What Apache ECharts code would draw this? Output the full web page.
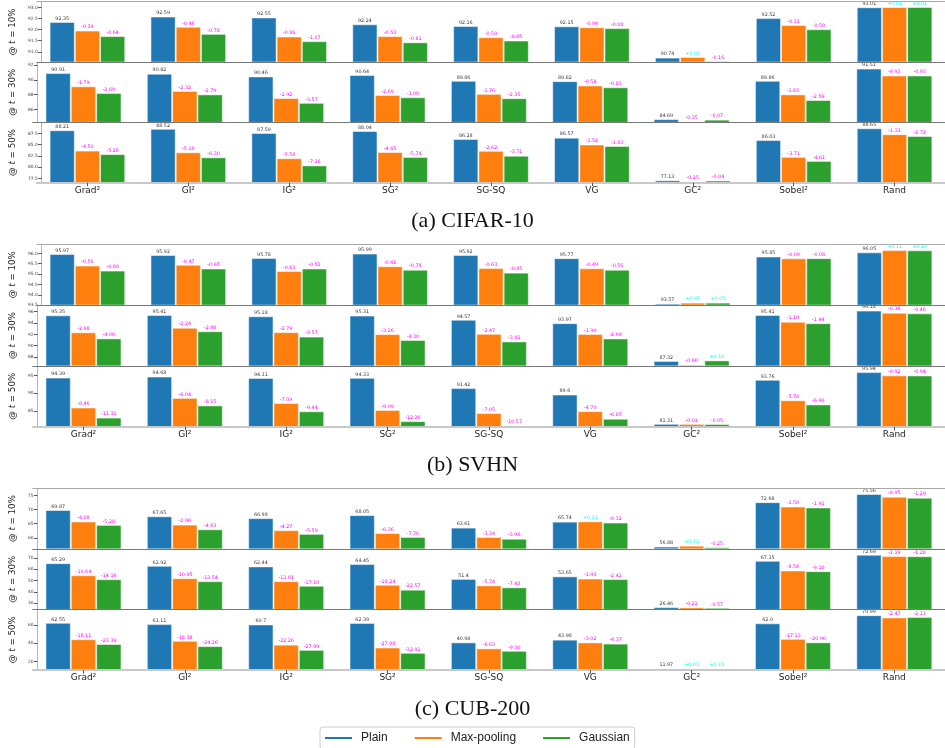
<!DOCTYPE html>
<html>
<head>
<meta charset="utf-8">
<script src="https://cdn.jsdelivr.net/npm/echarts@6/dist/echarts.min.js"></script>
<style>
  html, body { margin: 0; padding: 0; background: #fff; }
  #chart { width: 945px; height: 748px; }
</style>
</head>
<body>
<div id="chart"></div>
<script>
// Attribution methods on the x axis, one group of three bars each
const methods = ['Grad²', 'GI²', 'IG²', 'SG²', 'SG-SQ', 'VG', 'GC²', 'Sobel²', 'Rand'];
const removalRates = ['10%', '30%', '50%'];
const seriesNames = ['Plain', 'Max-pooling', 'Gaussian'];
const captions = ['(a) CIFAR-10', '(b) SVHN', '(c) CUB-200'];

// CIFAR-10: accuracy of the plain model and the change for each smoothing variant
const cifarPlain = [
  [92.35, 92.59, 92.55, 92.24, 92.16, 92.15, 90.74, 92.52, 93.01],
  [90.91, 90.82, 90.46, 90.64, 89.86, 89.82, 84.69, 89.86, 91.51],
  [88.21, 88.52, 87.59, 88.04, 86.28, 86.57, 77.13, 86.03, 88.65]
];
const cifarMaxPoolDelta = [
  [-0.39, -0.46, -0.86, -0.53, -0.50, -0.04, 0.03, -0.31, 0.01],
  [-1.79, -2.32, -2.92, -2.69, -1.76, -0.58, -0.35, -1.83, -0.93],
  [-4.50, -5.19, -5.58, -4.65, -2.62, -1.52, -0.25, -3.71, -1.31]
];
const cifarGaussDelta = [
  [-0.64, -0.78, -1.07, -0.81, -0.65, -0.08, -0.16, -0.50, 0.01],
  [-2.69, -2.79, -3.57, -3.00, -2.35, -0.83, -0.07, -2.59, -0.93],
  [-5.28, -6.30, -7.16, -5.74, -3.71, -1.83, -0.04, -4.61, -1.72]
];
const cifarYRange = [[90.54, 93.26], [84.25, 92.4], [76.6, 89.95]];
const cifarTicks = [
  ['91.0', '91.5', '92.0', '92.5', '93.0'],
  ['86', '88', '90', '92'],
  ['77.5', '80.0', '82.5', '85.0', '87.5']
];

// SVHN
const svhnPlain = [
  [95.97, 95.92, 95.78, 95.99, 95.92, 95.77, 93.57, 95.85, 96.05],
  [95.35, 95.41, 95.18, 95.31, 94.57, 93.97, 87.32, 95.41, 96.18],
  [94.39, 94.68, 94.31, 94.33, 91.42, 89.6, 81.31, 93.76, 95.94]
];
const svhnMaxPoolDelta = [
  [-0.56, -0.47, -0.63, -0.61, -0.63, -0.49, 0.05, -0.09, 0.11],
  [-2.98, -2.24, -2.79, -3.26, -2.47, -1.90, -0.66, -1.19, -0.36],
  [-8.46, -6.04, -7.09, -9.09, -7.05, -4.70, -0.01, -5.78, -0.92]
];
const svhnGaussDelta = [
  [-0.80, -0.65, -0.51, -0.78, -0.85, -0.56, 0.05, -0.08, 0.10],
  [-4.06, -2.86, -3.57, -4.30, -3.81, -2.69, 0.10, -1.44, -0.48],
  [-11.31, -8.15, -9.44, -12.26, -10.57, -6.85, -0.05, -6.96, -0.94]
];
const svhnYRange = [[93.5, 96.44], [86.45, 97.15], [80.5, 97.7]];
const svhnTicks = [
  ['93.5', '94.0', '94.5', '95.0', '95.5', '96.0'],
  ['88', '90', '92', '94', '96'],
  ['85', '90', '95']
];

// CUB-200
const cubPlain = [
  [69.87, 67.65, 66.98, 68.05, 63.61, 65.74, 56.88, 72.68, 75.56],
  [65.29, 62.92, 62.44, 64.45, 51.4, 53.65, 26.46, 67.35, 72.69],
  [62.55, 61.11, 60.7, 62.39, 40.98, 43.98, 11.97, 62.0, 70.99]
];
const cubMaxPoolDelta = [
  [-4.08, -2.96, -4.27, -6.36, -3.34, 0.11, 0.32, -1.58, -0.95],
  [-10.64, -10.95, -13.01, -18.24, -5.74, -1.93, -0.22, -8.54, -1.19],
  [-18.11, -18.38, -22.26, -27.08, -6.63, -3.02, 0.03, -17.13, -2.47]
];
const cubGaussDelta = [
  [-5.28, -4.63, -5.59, -7.76, -3.96, -0.32, -0.25, -1.91, -1.29],
  [-14.16, -13.54, -17.10, -22.57, -7.43, -2.42, -0.57, -9.10, -1.28],
  [-23.39, -24.26, -27.99, -32.91, -9.30, -4.37, 0.15, -20.96, -2.13]
];
const cubYRange = [[56.05, 77.6], [24.45, 77.9], [10.5, 77.3]];
const cubTicks = [
  ['60', '65', '70', '75'],
  ['30', '40', '50', '60', '70'],
  ['20', '40', '60']
];

const panels = [
  { plain: cifarPlain, deltas: [cifarMaxPoolDelta, cifarGaussDelta], yRange: cifarYRange, ticks: cifarTicks },
  { plain: svhnPlain, deltas: [svhnMaxPoolDelta, svhnGaussDelta], yRange: svhnYRange, ticks: svhnTicks },
  { plain: cubPlain, deltas: [cubMaxPoolDelta, cubGaussDelta], yRange: cubYRange, ticks: cubTicks }
];

// ---- layout and styling ----
const panelBox = [[1.7, 182.7], [244.3, 426.7], [488.3, 670]];
const captionCenterY = [222.7, 466.7, 710];
const colors = ['#1f77b4', '#ff7f0e', '#2ca02c'];
const GRID_LEFT = 32.5, GRID_WIDTH = 914;

function plainText(v) {
  return Number.isInteger(v) ? v.toFixed(1) : String(v);
}
function deltaText(d) {
  return (d > 0 ? '+' : '') + d.toFixed(2);
}

const grid = [], xAxis = [], yAxis = [], series = [];

panels.forEach((panel, p) => {
  const [top, bottom] = panelBox[p];
  const rowH = (bottom - top) / 3;
  for (let r = 0; r < 3; r++) {
    const g = grid.length;
    const lastRow = r === 2;
    grid.push({ left: GRID_LEFT, width: GRID_WIDTH, top: top + r * rowH, height: rowH });

    const xi = xAxis.length;
    xAxis.push({
      type: 'category', gridIndex: g, data: methods, z: 5,
      axisLine: { lineStyle: { color: lastRow ? '#c8c8c8' : '#777', width: lastRow ? 2 : 1.2 } },
      axisTick: { show: lastRow, alignWithLabel: true, length: 3.5, lineStyle: { color: '#555' } },
      axisLabel: { show: lastRow, fontSize: 9, color: '#222', margin: 3, fontFamily: 'DejaVu Sans' }
    });
    if (r === 0) {
      xAxis.push({
        type: 'category', gridIndex: g, data: methods, position: 'top', z: 5,
        axisLine: { lineStyle: { color: '#a8a8a8', width: 1 } },
        axisTick: { show: false }, axisLabel: { show: false }
      });
    }

    const tickLabels = panel.ticks[r];
    const tickValues = tickLabels.map(Number);
    yAxis.push({
      type: 'value', gridIndex: g,
      min: panel.yRange[r][0], max: panel.yRange[r][1],
      offset: -4.7,
      axisLine: { show: true, lineStyle: { color: '#b5b5b5', width: 1 } },
      axisTick: { show: true, length: 3.5, lineStyle: { color: '#555' }, customValues: tickValues },
      axisLabel: {
        fontSize: 4.4, color: '#444', margin: 4, fontFamily: 'DejaVu Sans',
        customValues: tickValues,
        formatter: v => {
          const k = tickValues.findIndex(t => Math.abs(t - v) < 1e-6);
          return k >= 0 ? tickLabels[k] : '';
        }
      },
      splitLine: { show: false },
      name: '@ {i|t} = ' + removalRates[r],
      nameLocation: 'middle', nameGap: 15, nameRotate: 90,
      nameTextStyle: {
        fontSize: 8.7, color: '#222', fontFamily: 'DejaVu Sans',
        rich: { i: { fontStyle: 'italic', fontSize: 8.7, color: '#222', fontFamily: 'DejaVu Sans' } }
      }
    });

    for (let s = 0; s < 3; s++) {
      const data = methods.map((m, i) => {
        const base = panel.plain[r][i];
        if (s === 0) {
          return { value: base, label: { formatter: plainText(base), color: '#333' } };
        }
        const d = panel.deltas[s - 1][r][i];
        return {
          value: Math.round((base + d) * 100) / 100,
          label: { formatter: deltaText(d), color: d > 0 ? '#00ffff' : '#ff00ff' }
        };
      });
      series.push({
        type: 'bar', name: seriesNames[s], xAxisIndex: xi, yAxisIndex: g,
        barWidth: '25%', barGap: '0%',
        itemStyle: { color: colors[s], borderColor: 'rgba(255,255,255,0.5)', borderWidth: 1 },
        label: { show: true, position: 'top', distance: 1, fontSize: 4.8, fontFamily: 'DejaVu Sans' },
        data
      });
    }
  }
});

const option = {
  animation: false,
  backgroundColor: '#fff',
  title: captions.map((c, p) => ({
    text: c, left: 'center', top: captionCenterY[p] - 12, padding: 0,
    textStyle: { fontFamily: 'Liberation Serif', fontSize: 22, fontWeight: 'normal', color: '#111' }
  })),
  legend: {
    data: seriesNames.map(n => ({ name: n, icon: 'rect' })),
    left: 320, top: 727, orient: 'horizontal',
    itemWidth: 27, itemHeight: 2, itemGap: 27,
    padding: [5, 5, 5, 5],
    borderColor: '#ccc', borderWidth: 1, borderRadius: 3,
    itemStyle: { borderWidth: 0 },
    textStyle: { fontSize: 12, fontFamily: 'Liberation Sans', color: '#222', padding: [0, 0, 0, 4] }
  },
  grid, xAxis, yAxis, series
};

echarts.init(document.getElementById('chart')).setOption(option);
</script>
</body>
</html>
